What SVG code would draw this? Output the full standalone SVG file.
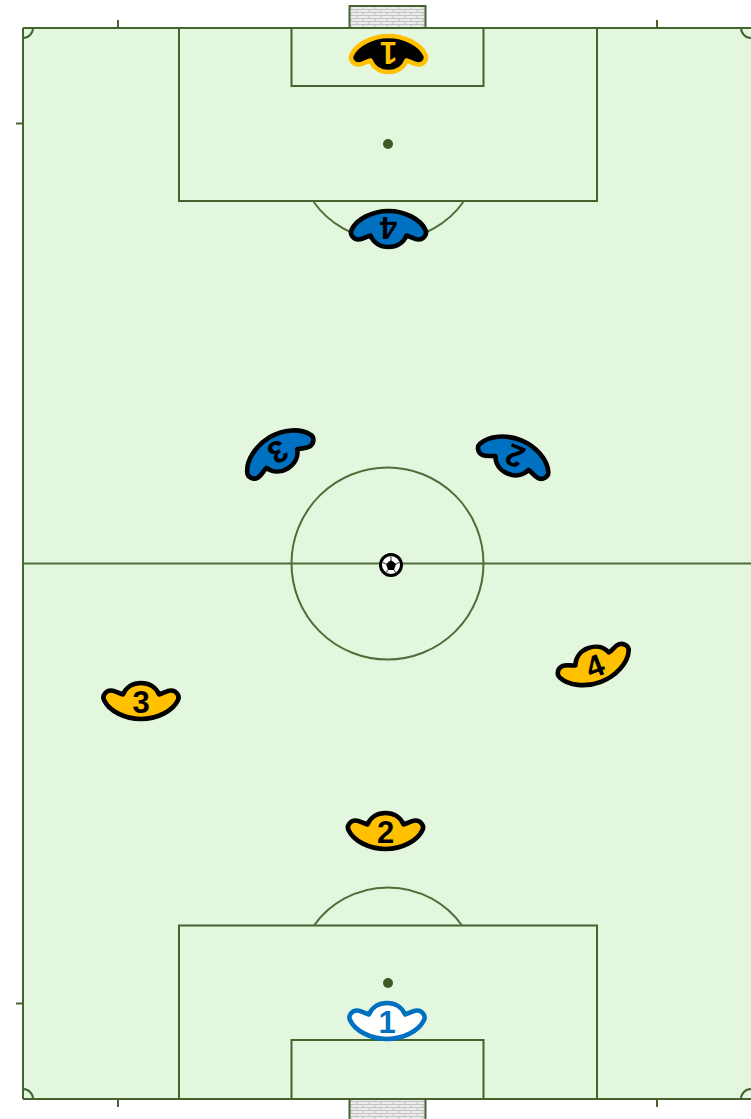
<svg xmlns="http://www.w3.org/2000/svg" width="751" height="1119" viewBox="0 0 751 1119">
<style>
.l{fill:none;stroke:#44632f;stroke-width:2}
.c{fill:none;stroke:#4f6e3a;stroke-width:2}
.p{stroke-width:4.600;stroke-linejoin:round}
.t{font-family:"Liberation Sans",Arial,sans-serif;font-size:31px;font-weight:700;text-anchor:middle}
.y{fill:#ffc000;stroke:#000}
.b{fill:#0070c0;stroke:#000}
</style>
<defs>
<pattern id="net" width="12" height="6" patternUnits="userSpaceOnUse">
<rect width="12" height="6" fill="#ececec"/>
<path d="M0 0.500H12M0 3.500H12M3 0V3M9 3V6" stroke="#c4c4c4" stroke-width="1" fill="none"/>
</pattern>
<path id="s" d="M-18,-6.500C-15,-14 -8,-18 0,-18C8,-18 15,-14 18,-6.500C22,-7.500 26,-10.500 30,-10.500C35.500,-10.500 39,-5 37,-1C32,10 16,18 0,18C-16,18 -32,10 -37,-1C-39,-5 -35.500,-10.500 -30,-10.500C-26,-10.500 -22,-7.500 -18,-6.500Z"/>
</defs>
<g id="pitch">
<rect x="349.500" y="6" width="76" height="22" class="l" style="fill:url(#net)"/>
<rect x="349.500" y="1099" width="76" height="24" class="l" style="fill:url(#net)"/>
<rect x="23" y="28" width="740" height="1071" fill="#e3f7de"/>
<path class="l" d="M23 28H751M23 1099H751M23 28V1099M118 20V28M657 20V28M118 1099V1107M657 1099V1107M16 123.500H23M16 1003.500H23"/>
<path class="l" d="M23 38A10 10 0 0 0 33 28M741 28A10 10 0 0 0 751 38M23 1089A10 10 0 0 1 33 1099M741 1099A10 10 0 0 1 751 1089"/>
<path class="l" d="M179 28V201H597V28M291.500 28V86H483.500V28M179 1099V925.500H597V1099M291.500 1099V1040H483.500V1099"/>
<path class="c" d="M23 563.500H751M313 201A92 92 0 0 0 464 201M314 925.500A91 91 0 0 1 462 925.500"/>
<circle class="c" cx="387.500" cy="563.500" r="96"/>
<circle cx="388" cy="144" r="5" fill="#3c5a25"/>
<circle cx="388" cy="983" r="5" fill="#3c5a25"/>
</g>
<g id="ball">
<circle cx="391" cy="565" r="10.500" fill="#fff" stroke="#000" stroke-width="3"/>
<path d="M391 560L396 564L394 570H388L386 564Z" fill="#000"/>
<path d="M391 560V556M396 564L400 562M394 570L396 573M388 570L386 573M386 564L382 562" stroke="#555" stroke-width="1.200" fill="none"/>
</g>
<g id="connectors"/>
<g id="opp-1" transform="translate(388.500 54) rotate(180)"><use href="#s" class="p" fill="#000" stroke="#ffc000"/><text class="t" x="0" y="12" fill="#ffc000">1</text></g>
<g id="opp-4" transform="translate(388.500 229) rotate(180)"><use href="#s" class="p b"/><text class="t" x="0" y="12" fill="#000">4</text></g>
<g id="opp-3" transform="translate(278.500 453) rotate(149)"><use href="#s" class="p b"/><text class="t" x="0" y="12" fill="#000">3</text></g>
<g id="opp-2" transform="translate(514.500 457) rotate(202.500)"><use href="#s" class="p b"/><text class="t" x="0" y="12" fill="#000">2</text></g>
<g id="team-4" transform="translate(594.500 665) rotate(-21)"><use href="#s" class="p y"/><text class="t" x="0" y="12" fill="#000">4</text></g>
<g id="team-3" transform="translate(141 701)"><use href="#s" class="p y"/><text class="t" x="0" y="12" fill="#000">3</text></g>
<g id="team-2" transform="translate(385.500 831)"><use href="#s" class="p y"/><text class="t" x="0" y="12" fill="#000">2</text></g>
<g id="team-1" transform="translate(387 1021)"><use href="#s" class="p" fill="#fff" stroke="#0070c0"/><text class="t" x="0" y="12" fill="#0070c0">1</text></g>
</svg>
